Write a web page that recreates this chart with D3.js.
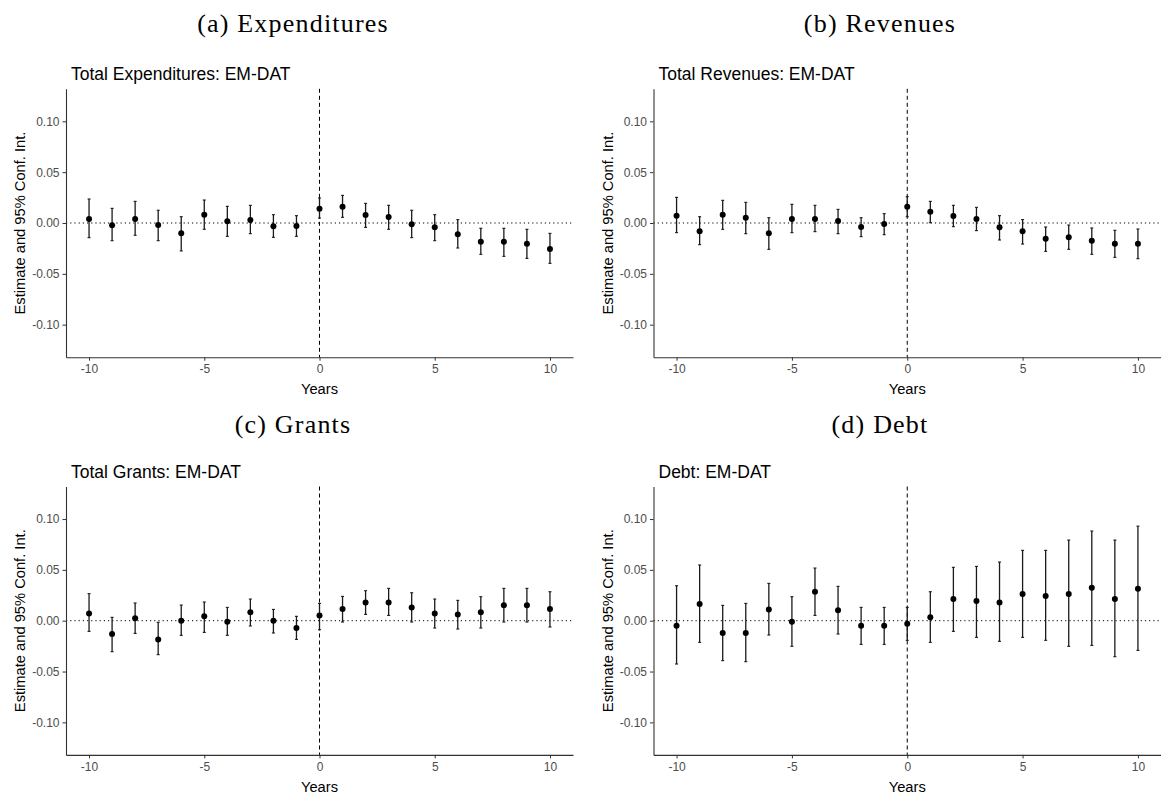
<!DOCTYPE html>
<html>
<head>
<meta charset="utf-8">
<script src="https://cdn.jsdelivr.net/npm/d3@7"></script>
<style>
  body { margin: 0; background: #fff; }
  svg { display: block; }
</style>
</head>
<body>
<div id="chart"></div>
<script>
// event-study estimates, years relative to the disaster
const years = [-10, -9, -8, -7, -6, -5, -4, -3, -2, -1, 0, 1, 2, 3, 4, 5, 6, 7, 8, 9, 10]
const yTicks = [-0.10, -0.05, 0.00, 0.05, 0.10]
const xTicks = [-10, -5, 0, 5, 10]

const expEst = [0.0039, -0.0023, 0.0039, -0.0020, -0.0102, 0.0082, 0.0016, 0.0030, -0.0033, -0.0030, 0.0141, 0.0161, 0.0079, 0.0059, -0.0013, -0.0043, -0.0111, -0.0184, -0.0184, -0.0203, -0.0256]
const expHi  = [0.0236, 0.0144, 0.0213, 0.0125, 0.0062, 0.0226, 0.0164, 0.0174, 0.0082, 0.0072, 0.0246, 0.0272, 0.0193, 0.0174, 0.0125, 0.0082, 0.0033, -0.0052, -0.0052, -0.0062, -0.0102]
const expLo  = [-0.0144, -0.0174, -0.0121, -0.0174, -0.0275, -0.0062, -0.0131, -0.0105, -0.0141, -0.0131, 0.0049, 0.0056, -0.0043, -0.0062, -0.0144, -0.0174, -0.0246, -0.0308, -0.0328, -0.0348, -0.0397]

const revEst = [0.0072, -0.0082, 0.0082, 0.0052, -0.0102, 0.0039, 0.0039, 0.0020, -0.0039, -0.0010, 0.0161, 0.0111, 0.0069, 0.0039, -0.0043, -0.0082, -0.0154, -0.0141, -0.0174, -0.0203, -0.0203]
const revHi  = [0.0252, 0.0062, 0.0223, 0.0203, 0.0052, 0.0184, 0.0174, 0.0134, 0.0052, 0.0092, 0.0259, 0.0213, 0.0174, 0.0154, 0.0072, 0.0033, -0.0039, -0.0020, -0.0049, -0.0072, -0.0059]
const revLo  = [-0.0095, -0.0213, -0.0062, -0.0105, -0.0259, -0.0095, -0.0085, -0.0105, -0.0134, -0.0115, 0.0062, 0.0003, -0.0036, -0.0075, -0.0167, -0.0207, -0.0279, -0.0259, -0.0308, -0.0338, -0.0351]

const grantEst = [0.0072, -0.0131, 0.0023, -0.0184, 0.0000, 0.0043, -0.0010, 0.0082, 0.0000, -0.0072, 0.0052, 0.0115, 0.0180, 0.0180, 0.0131, 0.0072, 0.0062, 0.0082, 0.0151, 0.0151, 0.0115]
const grantHi  = [0.0266, 0.0033, 0.0174, -0.0016, 0.0154, 0.0184, 0.0131, 0.0213, 0.0111, 0.0043, 0.0170, 0.0239, 0.0295, 0.0318, 0.0275, 0.0213, 0.0200, 0.0236, 0.0318, 0.0318, 0.0285]
const grantLo  = [-0.0105, -0.0305, -0.0125, -0.0334, -0.0144, -0.0115, -0.0144, -0.0052, -0.0121, -0.0184, -0.0089, -0.0013, 0.0062, 0.0052, -0.0013, -0.0072, -0.0082, -0.0072, -0.0013, -0.0013, -0.0062]

const debtEst = [-0.0049, 0.0164, -0.0121, -0.0121, 0.0111, -0.0010, 0.0285, 0.0102, -0.0049, -0.0049, -0.0030, 0.0033, 0.0213, 0.0193, 0.0180, 0.0262, 0.0243, 0.0262, 0.0325, 0.0213, 0.0315]
const debtHi  = [0.0344, 0.0548, 0.0151, 0.0170, 0.0367, 0.0236, 0.0518, 0.0338, 0.0131, 0.0131, 0.0131, 0.0285, 0.0525, 0.0534, 0.0577, 0.0692, 0.0692, 0.0793, 0.0882, 0.0793, 0.0930]
const debtLo  = [-0.0426, -0.0213, -0.0393, -0.0403, -0.0141, -0.0252, 0.0052, -0.0131, -0.0233, -0.0233, -0.0193, -0.0213, -0.0105, -0.0164, -0.0203, -0.0164, -0.0193, -0.0252, -0.0243, -0.0354, -0.0292]

const captions = ["(a) Expenditures", "(b) Revenues", "(c) Grants", "(d) Debt"]
const titles = ["Total Expenditures: EM-DAT", "Total Revenues: EM-DAT", "Total Grants: EM-DAT", "Debt: EM-DAT"]

const panels = [
  {caption: captions[0], title: titles[0], est: expEst, lo: expLo, hi: expHi, col: 0, row: 0},
  {caption: captions[1], title: titles[1], est: revEst, lo: revLo, hi: revHi, col: 1, row: 0},
  {caption: captions[2], title: titles[2], est: grantEst, lo: grantLo, hi: grantHi, col: 0, row: 1},
  {caption: captions[3], title: titles[3], est: debtEst, lo: debtLo, hi: debtHi, col: 1, row: 1}
]

let width = 1161
let height = 796
let cols = [{left: 66, right: 573, capX: 293}, {left: 653.5, right: 1161, capX: 880}]
let rows = [{top: 88.8, bottom: 357.2, capY: 32}, {top: 486.5, bottom: 754.9, capY: 433}]

const svg = d3.select("#chart").append("svg")
  .attr("width", width)
  .attr("height", height)

const sans = "'Liberation Sans', Arial, sans-serif"

panels.forEach(function (p) {
  let c = cols[p.col], r = rows[p.row]

  let x = d3.scaleLinear().domain([-11, 11]).range([c.left, c.right])
  let y = d3.scaleLinear().domain([-0.132, 0.132]).range([r.bottom, r.top])

  const g = svg.append("g")

  // subfigure caption
  g.append("text")
    .attr("x", c.capX)
    .attr("y", r.capY)
    .attr("text-anchor", "middle")
    .style("font-family", "'Liberation Serif', 'Times New Roman', serif")
    .style("font-size", "26px")
    .style("letter-spacing", "1.2px")
    .text(p.caption)

  // plot title
  g.append("text")
    .attr("x", c.left + 5)
    .attr("y", r.top - 9)
    .style("font-family", sans)
    .style("font-size", "17.5px")
    .attr("fill", "#000")
    .text(p.title)

  // reference lines
  g.append("line")
    .attr("x1", c.left).attr("x2", c.right)
    .attr("y1", y(0)).attr("y2", y(0))
    .attr("stroke", "#000").attr("stroke-width", 1)
    .attr("stroke-dasharray", "1.2,3")

  g.append("line")
    .attr("x1", x(0)).attr("x2", x(0))
    .attr("y1", r.top).attr("y2", r.bottom)
    .attr("stroke", "#000").attr("stroke-width", 1)
    .attr("stroke-dasharray", "4,3")

  // axes
  let xAxis = g.append("g")
    .attr("transform", "translate(0," + r.bottom + ")")
    .call(d3.axisBottom(x).tickValues(xTicks).tickSizeInner(3.5).tickSizeOuter(0).tickPadding(4).tickFormat(d3.format("d")))
  let yAxis = g.append("g")
    .attr("transform", "translate(" + c.left + ",0)")
    .call(d3.axisLeft(y).tickValues(yTicks).tickSizeInner(3.5).tickSizeOuter(0).tickPadding(3).tickFormat(d3.format(".2f")))

  ;[xAxis, yAxis].forEach(function (a) {
    a.select(".domain").attr("stroke", "#333").attr("stroke-width", 1.1)
    a.selectAll(".tick line").attr("stroke", "#333")
    a.selectAll(".tick text")
      .attr("fill", "#4d4d4d")
      .style("font-family", sans)
      .style("font-size", "12px")
  })
  xAxis.selectAll(".tick text").text(function (d) { return d < 0 ? "-" + Math.abs(d) : d })
  yAxis.selectAll(".tick text").text(function (d) { return d < 0 ? "-" + d3.format(".2f")(Math.abs(d)) : d3.format(".2f")(d) })

  // axis titles
  g.append("text")
    .attr("x", (c.left + c.right) / 2)
    .attr("y", r.bottom + 37)
    .attr("text-anchor", "middle")
    .style("font-family", sans)
    .style("font-size", "14.7px")
    .text("Years")

  g.append("text")
    .attr("transform", "translate(" + (c.left - 41) + "," + ((r.top + r.bottom) / 2) + ") rotate(-90)")
    .attr("text-anchor", "middle")
    .style("font-family", sans)
    .style("font-size", "14.7px")
    .text("Estimate and 95% Conf. Int.")

  // error bars
  let data = years.map(function (yr, i) {
    return {year: yr, est: p.est[i], lo: p.lo[i], hi: p.hi[i]}
  })

  let bars = g.selectAll(".bar")
    .data(data)
    .enter().append("g")
    .attr("class", "bar")

  bars.append("line")
    .attr("x1", function (d) { return x(d.year) })
    .attr("x2", function (d) { return x(d.year) })
    .attr("y1", function (d) { return y(d.lo) })
    .attr("y2", function (d) { return y(d.hi) })
    .attr("stroke", "#1a1a1a").attr("stroke-width", 1.3)

  ;["lo", "hi"].forEach(function (k) {
    bars.append("line")
      .attr("x1", function (d) { return x(d.year) - 1.5 })
      .attr("x2", function (d) { return x(d.year) + 1.5 })
      .attr("y1", function (d) { return y(d[k]) })
      .attr("y2", function (d) { return y(d[k]) })
      .attr("stroke", "#1a1a1a").attr("stroke-width", 1.1)
  })

  bars.append("circle")
    .attr("cx", function (d) { return x(d.year) })
    .attr("cy", function (d) { return y(d.est) })
    .attr("r", 3)
    .attr("fill", "#000")
})
</script>
</body>
</html>
